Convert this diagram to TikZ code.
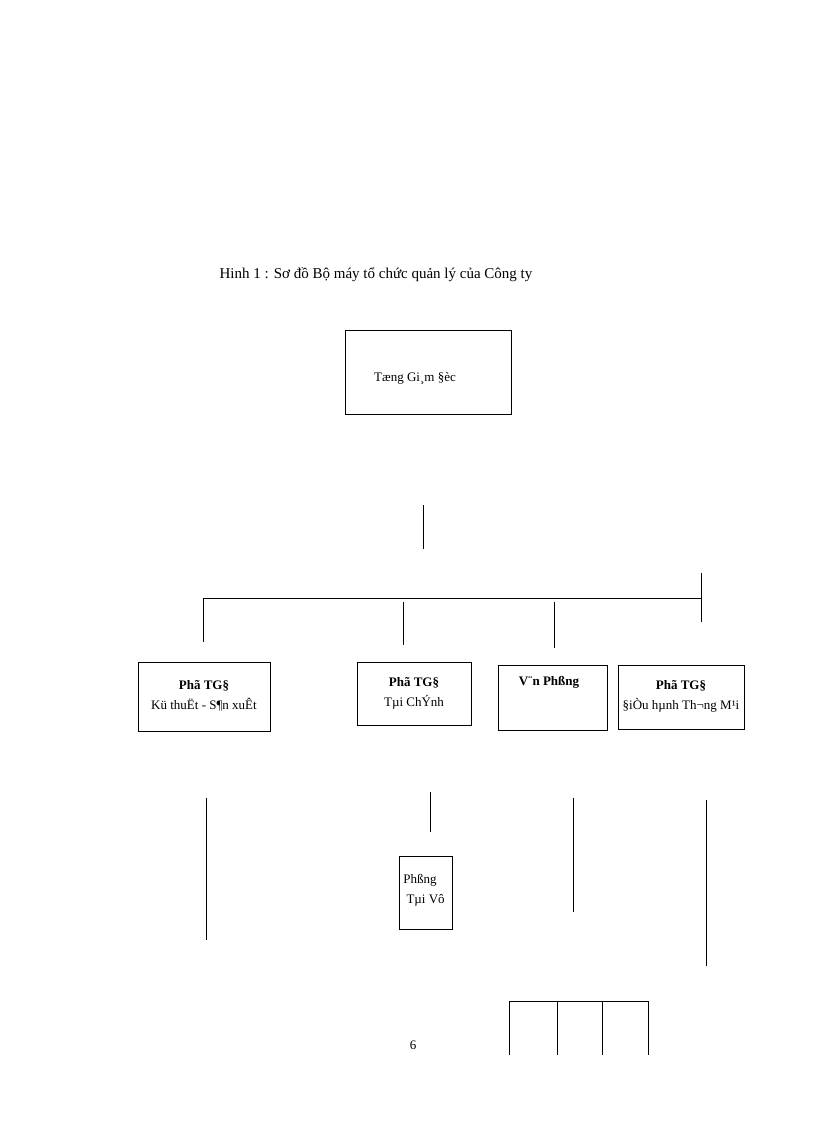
\documentclass[tikz,border=0pt]{standalone}
\usepackage{fontspec}
\setmainfont{Liberation Serif}
\begin{document}
\begin{tikzpicture}[x=1pt,y=-1pt,
  bx/.style={draw,line width=0.8pt},
  ln/.style={line width=0.8pt},
  tx/.style={font=\fontsize{13}{15}\selectfont,align=center,inner sep=0pt}]
\useasboundingbox (0,0) rectangle (816,1123);
\node[inner sep=0pt,font=\fontsize{15}{17}\selectfont] (title) at (376,275) {Hinh 1 : Sơ đồ Bộ máy tổ chức quản lý của Công ty};
\draw[bx] (345,330) rectangle (511,414);
\node[tx] (tgd) at (415,378) {Tæng Gi¸m §èc};
\coordinate (a1) at (423,505); \coordinate (a2) at (423,549);
\draw[ln] (a1) -- (a2);
\coordinate (h1) at (203,598); \coordinate (h2) at (701,598);
\draw[ln] (h1) -- (h2);
\draw[ln] (701,573) -- (701,622);
\draw[ln] (203,598) -- (203,642);
\draw[ln] (403,602) -- (403,645);
\draw[ln] (554,602) -- (554,648);
\draw[bx] (138,662) rectangle (270,731);
\node[tx] (b1) at (204,696) {\textbf{Phã TG§}\\[5pt] Kü thuËt - S¶n xuÊt};
\draw[bx] (357,662) rectangle (471,725);
\node[tx] (b2) at (414,693) {\textbf{Phã TG§}\\[5pt] Tµi ChÝnh};
\draw[bx] (498,665) rectangle (607,730);
\node[tx,font=\fontsize{13}{15}\selectfont\bfseries] (b3) at (549,682) {V¨n Phßng};
\draw[bx] (618,665) rectangle (744,729);
\node[tx] (b4) at (681,696) {\textbf{Phã TG§}\\[5pt] §iÒu hµnh Th¬ng M¹i};
\draw[ln] (206,798) -- (206,940);
\draw[ln] (430,792) -- (430,832);
\draw[ln] (573,798) -- (573,912);
\draw[ln] (706,800) -- (706,966);
\draw[bx] (399,856) rectangle (452,929);
\node[tx,align=left] (pt) at (424,890) {Phßng\\[5pt] \ Tµi Vô};
\draw[ln] (509,1055) -- (509,1001) -- (648,1001) -- (648,1055);
\draw[ln] (557,1001) -- (557,1055);
\draw[ln] (602,1001) -- (602,1055);
\node[tx] (pg) at (413,1045) {6};
\end{tikzpicture}
\end{document}
